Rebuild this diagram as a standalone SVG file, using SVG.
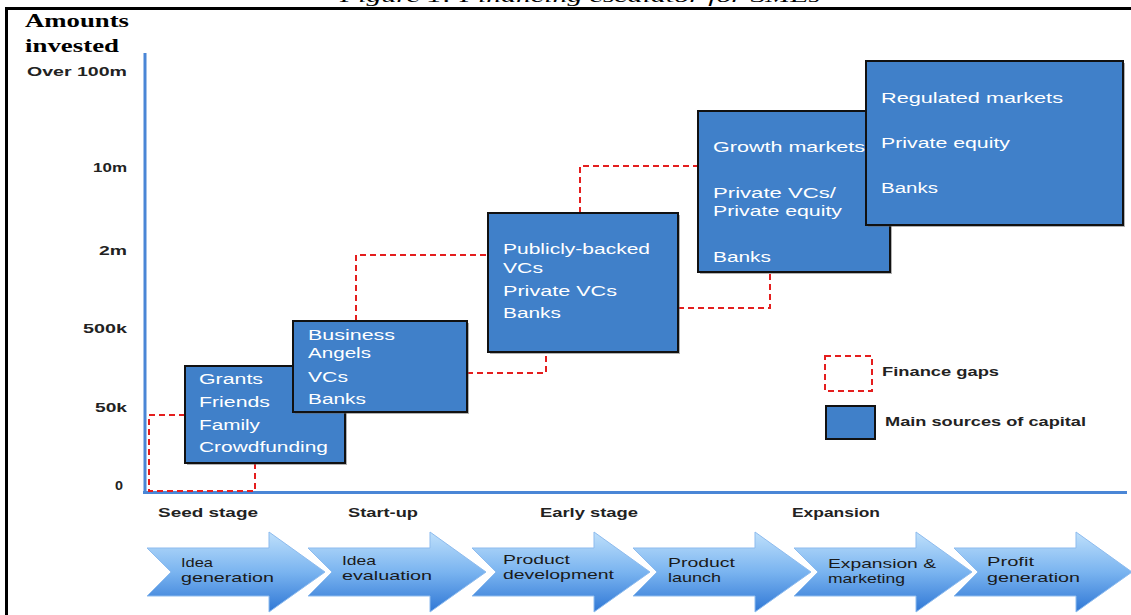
<svg xmlns="http://www.w3.org/2000/svg" width="1131" height="615" viewBox="0 0 1131 615">
<style>
.frame{stroke:#000;stroke-width:3;fill:none}
.axis{stroke:#4a86d6;stroke-width:3;fill:none}
.gap{stroke:#e41e1e;stroke-width:2;stroke-dasharray:6 4;fill:none}
.box{fill:#4080c9;stroke:#111;stroke-width:2}
.shadow{fill:#666;opacity:0.5}
.bt{font-family:"Liberation Sans",Arial,sans-serif;font-size:14px;fill:#fff}
.ax{font-family:"Liberation Sans",Arial,sans-serif;font-size:12.5px;font-weight:bold;fill:#222;text-anchor:end}
.st{font-family:"Liberation Sans",Arial,sans-serif;font-size:13px;font-weight:bold;fill:#222}
.at{font-family:"Liberation Sans",Arial,sans-serif;font-size:13px;fill:#1a1a1a}
.lg{font-family:"Liberation Sans",Arial,sans-serif;font-size:12.5px;font-weight:bold;fill:#222}
.ttl{font-family:"Liberation Serif","Times New Roman",serif;font-size:18px;font-weight:bold;fill:#000}
.cap{font-family:"Liberation Serif","Times New Roman",serif;font-size:17px;font-style:italic;fill:#000}
.arrow{fill:url(#ag);stroke:#8dbbee;stroke-width:1}
</style>
<defs>
<linearGradient id="ag" gradientUnits="userSpaceOnUse" x1="0" y1="532" x2="0" y2="612">
<stop offset="0" stop-color="#bfe0fb"/>
<stop offset="0.5" stop-color="#7ab4f0"/>
<stop offset="1" stop-color="#2f77d5"/>
</linearGradient>
</defs>
<rect width="1131" height="615" fill="#fff"/>
<text class="cap" x="340" y="2" textLength="480" lengthAdjust="spacingAndGlyphs">Figure 1: Financing escalator for SMEs</text>
<g id="frame">
<line class="frame" x1="5" y1="8.5" x2="1131" y2="8.5"/>
<line class="frame" x1="6.5" y1="7" x2="6.5" y2="615"/>
</g>
<g id="title">
<text class="ttl" x="25" y="27" textLength="104" lengthAdjust="spacingAndGlyphs">Amounts</text>
<text class="ttl" x="25" y="52" textLength="94" lengthAdjust="spacingAndGlyphs">invested</text>
</g>
<g id="axes">
<line class="axis" x1="145" y1="53" x2="145" y2="493"/>
<line class="axis" x1="143" y1="492.5" x2="1127" y2="492.5"/>
<text class="ax" x="127" y="76" textLength="100" lengthAdjust="spacingAndGlyphs">Over 100m</text>
<text class="ax" x="127" y="172" textLength="34" lengthAdjust="spacingAndGlyphs">10m</text>
<text class="ax" x="127" y="255" textLength="28" lengthAdjust="spacingAndGlyphs">2m</text>
<text class="ax" x="127" y="333" textLength="44" lengthAdjust="spacingAndGlyphs">500k</text>
<text class="ax" x="127" y="412" textLength="32" lengthAdjust="spacingAndGlyphs">50k</text>
<text class="ax" x="123" y="490" textLength="8" lengthAdjust="spacingAndGlyphs">0</text>
</g>
<g id="connectors">
<path class="gap" d="M185,415 H149 V491 H255 V463"/>
<path class="gap" d="M356,321 V255 H488"/>
<path class="gap" d="M467,373 H546 V352"/>
<path class="gap" d="M580,213 V166 H698"/>
<path class="gap" d="M678,308 H770 V272"/>
</g>
<g id="box-seed">
<rect class="shadow" x="187" y="368" width="160" height="97"/>
<rect class="box" x="185" y="366" width="160" height="97"/>
<text class="bt" x="199" y="384" textLength="64" lengthAdjust="spacingAndGlyphs">Grants</text>
<text class="bt" x="199" y="407" textLength="71" lengthAdjust="spacingAndGlyphs">Friends</text>
<text class="bt" x="199" y="430" textLength="61" lengthAdjust="spacingAndGlyphs">Family</text>
<text class="bt" x="199" y="452" textLength="129" lengthAdjust="spacingAndGlyphs">Crowdfunding</text>
</g>
<g id="box-startup">
<rect class="shadow" x="295" y="323" width="174" height="91"/>
<rect class="box" x="293" y="321" width="174" height="91"/>
<text class="bt" x="308" y="340" textLength="87" lengthAdjust="spacingAndGlyphs">Business</text>
<text class="bt" x="308" y="358" textLength="63" lengthAdjust="spacingAndGlyphs">Angels</text>
<text class="bt" x="308" y="382" textLength="40" lengthAdjust="spacingAndGlyphs">VCs</text>
<text class="bt" x="308" y="404" textLength="58" lengthAdjust="spacingAndGlyphs">Banks</text>
</g>
<g id="box-early">
<rect class="shadow" x="490" y="215" width="190" height="139"/>
<rect class="box" x="488" y="213" width="190" height="139"/>
<text class="bt" x="503" y="254" textLength="147" lengthAdjust="spacingAndGlyphs">Publicly-backed</text>
<text class="bt" x="503" y="273" textLength="40" lengthAdjust="spacingAndGlyphs">VCs</text>
<text class="bt" x="503" y="296" textLength="114" lengthAdjust="spacingAndGlyphs">Private VCs</text>
<text class="bt" x="503" y="318" textLength="58" lengthAdjust="spacingAndGlyphs">Banks</text>
</g>
<g id="box-growth">
<rect class="shadow" x="700" y="113" width="192" height="161"/>
<rect class="box" x="698" y="111" width="192" height="161"/>
<text class="bt" x="713" y="152" textLength="152" lengthAdjust="spacingAndGlyphs">Growth markets</text>
<text class="bt" x="713" y="198" textLength="123" lengthAdjust="spacingAndGlyphs">Private VCs/</text>
<text class="bt" x="713" y="216" textLength="129" lengthAdjust="spacingAndGlyphs">Private equity</text>
<text class="bt" x="713" y="262" textLength="58" lengthAdjust="spacingAndGlyphs">Banks</text>
</g>
<g id="box-expansion">
<rect class="shadow" x="868" y="63" width="257" height="164"/>
<rect class="box" x="866" y="61" width="257" height="164"/>
<text class="bt" x="881" y="103" textLength="182" lengthAdjust="spacingAndGlyphs">Regulated markets</text>
<text class="bt" x="881" y="148" textLength="129" lengthAdjust="spacingAndGlyphs">Private equity</text>
<text class="bt" x="881" y="193" textLength="57" lengthAdjust="spacingAndGlyphs">Banks</text>
</g>
<g id="legend">
<rect class="gap" x="825" y="356" width="47" height="35"/>
<text class="lg" x="882" y="376" textLength="117" lengthAdjust="spacingAndGlyphs">Finance gaps</text>
<rect class="box" x="826" y="406" width="49" height="33"/>
<text class="lg" x="885" y="426" textLength="201" lengthAdjust="spacingAndGlyphs">Main sources of capital</text>
</g>
<g id="stages">
<text class="st" x="158" y="517" textLength="100" lengthAdjust="spacingAndGlyphs">Seed stage</text>
<text class="st" x="348" y="517" textLength="70" lengthAdjust="spacingAndGlyphs">Start-up</text>
<text class="st" x="540" y="517" textLength="98" lengthAdjust="spacingAndGlyphs">Early stage</text>
<text class="st" x="792" y="517" textLength="88" lengthAdjust="spacingAndGlyphs">Expansion</text>
</g>
<g id="arrow-1">
<path class="arrow" d="M147,548 H269 V532 L325,572 L269,612 V596 H147 L171,572 Z"/>
<text class="at" x="181" y="567" textLength="32" lengthAdjust="spacingAndGlyphs">Idea</text>
<text class="at" x="181" y="582" textLength="93" lengthAdjust="spacingAndGlyphs">generation</text>
</g>
<g id="arrow-2">
<path class="arrow" d="M308,548 H430 V532 L486,572 L430,612 V596 H308 L332,572 Z"/>
<text class="at" x="342" y="565" textLength="34" lengthAdjust="spacingAndGlyphs">Idea</text>
<text class="at" x="342" y="580" textLength="90" lengthAdjust="spacingAndGlyphs">evaluation</text>
</g>
<g id="arrow-3">
<path class="arrow" d="M472,548 H594 V532 L650,572 L594,612 V596 H472 L496,572 Z"/>
<text class="at" x="503" y="564" textLength="67" lengthAdjust="spacingAndGlyphs">Product</text>
<text class="at" x="503" y="579" textLength="111" lengthAdjust="spacingAndGlyphs">development</text>
</g>
<g id="arrow-4">
<path class="arrow" d="M633,548 H755 V532 L811,572 L755,612 V596 H633 L657,572 Z"/>
<text class="at" x="668" y="567" textLength="67" lengthAdjust="spacingAndGlyphs">Product</text>
<text class="at" x="668" y="582" textLength="53" lengthAdjust="spacingAndGlyphs">launch</text>
</g>
<g id="arrow-5">
<path class="arrow" d="M794,548 H916 V532 L972,572 L916,612 V596 H794 L818,572 Z"/>
<text class="at" x="828" y="568" textLength="108" lengthAdjust="spacingAndGlyphs">Expansion &amp;</text>
<text class="at" x="828" y="583" textLength="77" lengthAdjust="spacingAndGlyphs">marketing</text>
</g>
<g id="arrow-6">
<path class="arrow" d="M954,548 H1076 V532 L1132,572 L1076,612 V596 H954 L978,572 Z"/>
<text class="at" x="987" y="566" textLength="47" lengthAdjust="spacingAndGlyphs">Profit</text>
<text class="at" x="987" y="582" textLength="93" lengthAdjust="spacingAndGlyphs">generation</text>
</g>
</svg>
